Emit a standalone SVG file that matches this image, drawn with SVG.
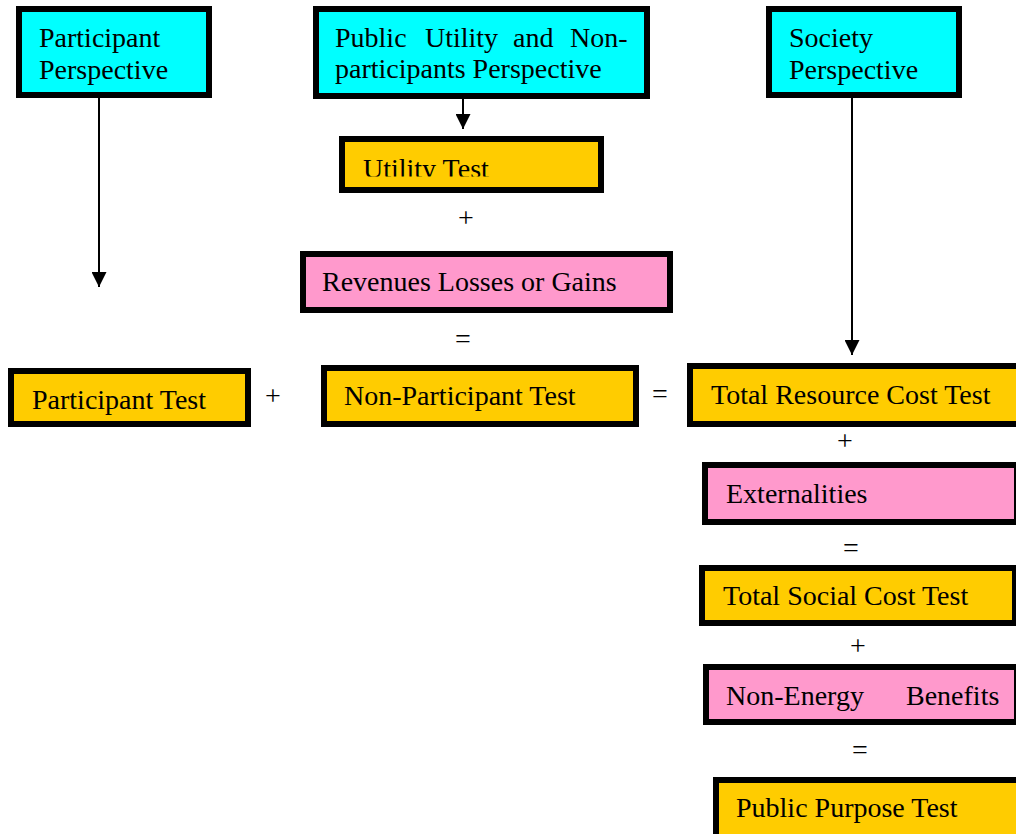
<svg xmlns="http://www.w3.org/2000/svg" width="1016" height="834" viewBox="0 0 1016 834">
  <style>
    .box { stroke: #000; stroke-width: 6; }
    .persp { fill: #00FFFF; }
    .test { fill: #FFCC00; }
    .adj { fill: #FF99CC; }
    text { font-family: "Liberation Serif", "Times New Roman", serif; font-size: 28px; fill: #000; }
    .op { text-anchor: middle; }
    .conn { stroke: #000; stroke-width: 2; fill: none; }
  </style>
  <defs>
    <marker id="head" markerUnits="userSpaceOnUse" markerWidth="15" markerHeight="15" refX="15" refY="7.5" orient="auto">
      <path d="M0,0 L15,7.5 L0,15 Z" fill="#000"/>
    </marker>
    <clipPath id="clipUtility">
      <rect x="345" y="142" width="253" height="34.5"/>
    </clipPath>
  </defs>

  <rect width="1016" height="834" fill="#fff"/>

  <!-- perspectives -->
  <g id="participant-perspective">
    <rect class="box persp" x="19" y="9" width="190" height="86"/>
    <text x="39" y="47">Participant</text>
    <text x="39" y="79">Perspective</text>
  </g>
  <g id="utility-perspective">
    <rect class="box persp" x="316" y="9" width="331" height="87"/>
    <text x="335" y="47">Public</text>
    <text x="425" y="47">Utility</text>
    <text x="513" y="47">and</text>
    <text x="570" y="47">Non-</text>
    <text x="335" y="78">participants Perspective</text>
  </g>
  <g id="society-perspective">
    <rect class="box persp" x="769" y="9" width="190" height="86"/>
    <text x="789" y="47">Society</text>
    <text x="789" y="79">Perspective</text>
  </g>

  <!-- tests and adjustments -->
  <g id="utility-test">
    <rect class="box test" x="342" y="139" width="259" height="51"/>
    <text x="363" y="178" clip-path="url(#clipUtility)">Utility Test</text>
  </g>
  <g id="revenues">
    <rect class="box adj" x="303" y="254" width="367" height="56"/>
    <text x="322" y="291">Revenues Losses or Gains</text>
  </g>
  <g id="participant-test">
    <rect class="box test" x="11" y="371" width="237" height="53"/>
    <text x="32" y="409">Participant Test</text>
  </g>
  <g id="non-participant-test">
    <rect class="box test" x="324" y="368" width="312" height="56"/>
    <text x="344" y="405">Non-Participant Test</text>
  </g>
  <g id="total-resource-cost-test">
    <rect class="box test" x="690" y="366" width="340" height="58"/>
    <text x="711" y="404">Total Resource Cost Test</text>
  </g>
  <g id="externalities">
    <rect class="box adj" x="705" y="465" width="312" height="57"/>
    <text x="726" y="503">Externalities</text>
  </g>
  <g id="total-social-cost-test">
    <rect class="box test" x="702" y="568" width="313" height="55"/>
    <text x="723" y="605">Total Social Cost Test</text>
  </g>
  <g id="non-energy-benefits">
    <rect class="box adj" x="706" y="667" width="311" height="55"/>
    <text x="726" y="705">Non-Energy</text>
    <text x="906" y="705">Benefits</text>
  </g>
  <g id="public-purpose-test">
    <rect class="box test" x="716" y="780" width="320" height="60"/>
    <text x="736" y="817">Public Purpose Test</text>
  </g>

  <!-- operators -->
  <g id="operators">
    <text class="op" x="466" y="227">+</text>
    <text class="op" x="463" y="348">=</text>
    <text class="op" x="273" y="405">+</text>
    <text class="op" x="660" y="403">=</text>
    <text class="op" x="845" y="450">+</text>
    <text class="op" x="851" y="557">=</text>
    <text class="op" x="858" y="655">+</text>
    <text class="op" x="860" y="759">=</text>
  </g>

  <!-- connectors -->
  <g id="connectors">
    <line class="conn" x1="99" y1="98" x2="99" y2="287" marker-end="url(#head)"/>
    <line class="conn" x1="463" y1="99" x2="463" y2="129" marker-end="url(#head)"/>
    <line class="conn" x1="852" y1="98" x2="852" y2="355" marker-end="url(#head)"/>
  </g>
</svg>
